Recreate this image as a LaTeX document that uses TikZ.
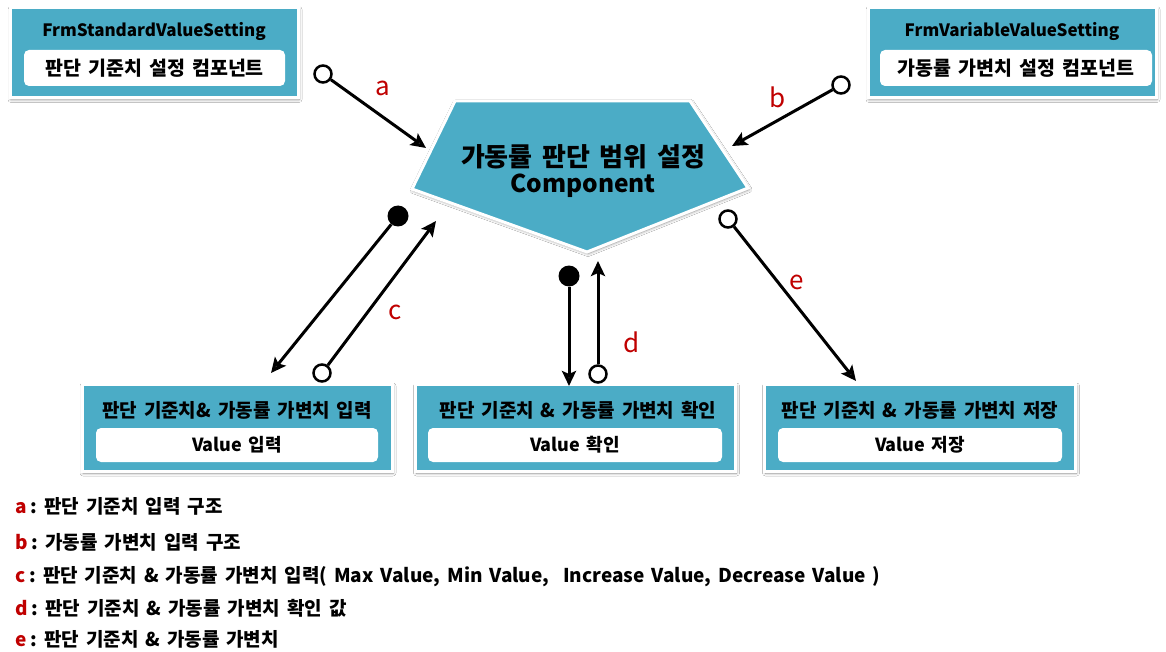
\documentclass[tikz,border=0pt]{standalone}
\usepackage{fontspec}
\setmainfont{Noto Sans CJK KR}[BoldFont={* Black}, WordSpace=1.6]
\usetikzlibrary{arrows.meta,shadows.blur}
\definecolor{panelblue}{HTML}{4BACC6}
\definecolor{labelred}{HTML}{C00000}
\newcommand{\fsz}[1]{\bfseries\fontsize{#1}{#1}\selectfont}
\newcommand{\legkey}[1]{\textcolor{labelred}{#1}\kern4pt:\ }
\begin{document}
\begin{tikzpicture}[x=1pt,y=-1pt,
  panel/.style={fill=panelblue, draw=white, line width=3pt,
    blur shadow={shadow xshift=1pt, shadow yshift=-1.5pt, shadow blur radius=3pt, shadow blur steps=6, shadow opacity=45}},
  inner/.style={fill=white, rounded corners=5pt, inner sep=0pt, font=\fsz{19.5}},
  subtitle/.style={fill=white, rounded corners=5pt, inner sep=0pt, font=\fsz{18}},
  title/.style={font=\fsz{17}, inner sep=0pt},
  ktitle/.style={font=\fsz{19}, inner sep=0pt},
  hollow/.style={circle, draw=black, line width=2.5pt, fill=white, minimum size=17pt, inner sep=0pt},
  solid/.style={circle, fill=black, minimum size=21pt, inner sep=0pt},
  flow/.style={line width=3pt, -{Stealth[length=15pt,width=14pt,inset=3pt]}},
  tag/.style={text=labelred, font=\fontsize{26}{28}\selectfont, inner sep=0pt},
  legend/.style={anchor=west, inner sep=0pt, font=\fsz{19}}
]
\useasboundingbox (0,0) rectangle (1166,652);
\fill[white] (0,0) rectangle (1166,652);

% top-left panel
\node[panel, minimum width=288pt, minimum height=90pt] (stdpanel) at (154,53) {};
\node[title] (stdtitle) at (154,31) {FrmStandardValueSetting};
\node[inner, minimum width=261pt, minimum height=36pt] (stdinner) at (154.5,68) {판단 기준치 설정 컴포넌트};

% top-right panel
\node[panel, minimum width=288pt, minimum height=90pt] (varpanel) at (1012,53) {};
\node[title] (vartitle) at (1012,31) {FrmVariableValueSetting};
\node[inner, minimum width=272pt, minimum height=36pt] (varinner) at (1016,68) {가동률 가변치 설정 컴포넌트};

% central pentagon
\draw[panel] (455,101) -- (690,101) -- (748,188) -- (587,252) -- (412,189) -- cycle;
\node[font=\fsz{26}, inner sep=0pt] (comp) at (583,157) {가동률 판단 범위 설정};
\node[font=\fsz{24.5}, inner sep=0pt] (compen) at (583,186) {Component};

% bottom panels
\node[panel, minimum width=310pt, minimum height=87pt] (inpanel) at (237,428) {};
\node[ktitle] (intitle) at (237,410) {판단 기준치\& 가동률 가변치 입력};
\node[subtitle, minimum width=282pt, minimum height=34pt] (ininner) at (237,445) {Value 입력};

\node[panel, minimum width=320pt, minimum height=87pt] (chkpanel) at (575.5,428) {};
\node[ktitle] (chktitle) at (578,410) {판단 기준치 \& 가동률 가변치 확인};
\node[subtitle, minimum width=294pt, minimum height=34pt] (chkinner) at (575,445) {Value 확인};

\node[panel, minimum width=311pt, minimum height=87pt] (savpanel) at (920,428) {};
\node[ktitle] (savtitle) at (920,410) {판단 기준치 \& 가동률 가변치 저장};
\node[subtitle, minimum width=284pt, minimum height=34pt] (savinner) at (920,445) {Value 저장};

% connector ends
\coordinate (ta) at (426,148);
\coordinate (tb) at (732,146);
\coordinate (tc1) at (271,373);
\coordinate (tc2) at (436,221);
\coordinate (td1) at (569,386);
\coordinate (td2) at (598,261);
\coordinate (te) at (856,381);

% connectors
\node[hollow] (sa) at (323,74) {};
\draw[flow] (sa) -- (ta);
\node[hollow] (sb) at (841,85) {};
\draw[flow] (sb) -- (tb);
\node[solid] (sc1) at (398,216) {};
\draw[flow] (sc1) -- (tc1);
\node[hollow] (sc2) at (322,373) {};
\draw[flow] (sc2) -- (tc2);
\node[solid] (sd1) at (569,276) {};
\draw[flow] (sd1) -- (td1);
\node[hollow] (sd2) at (598,374) {};
\draw[flow] (sd2) -- (td2);
\node[hollow] (se) at (728,219) {};
\draw[flow] (se) -- (te);

% connector labels
\node[tag] (la) at (383,88) {a};
\node[tag] (lb) at (778,97) {b};
\node[tag] (lc) at (395,312) {c};
\node[tag] (ld) at (632,342) {d};
\node[tag] (le) at (797,282) {e};

% legend
\node[legend] (ka) at (15,506) {\legkey{a}판단 기준치 입력 구조};
\node[legend] (kb) at (15,542) {\legkey{b}가동률 가변치 입력 구조};
\node[legend] (kc) at (15,577) {\legkey{c}판단 기준치 \& 가동률 가변치 입력( Max Value, Min Value,\ \ Increase Value, Decrease Value )};
\node[legend] (kd) at (15,608) {\legkey{d}판단 기준치 \& 가동률 가변치 확인 값};
\node[legend] (ke) at (15,639) {\legkey{e}판단 기준치 \& 가동률 가변치};
\end{tikzpicture}
\end{document}
